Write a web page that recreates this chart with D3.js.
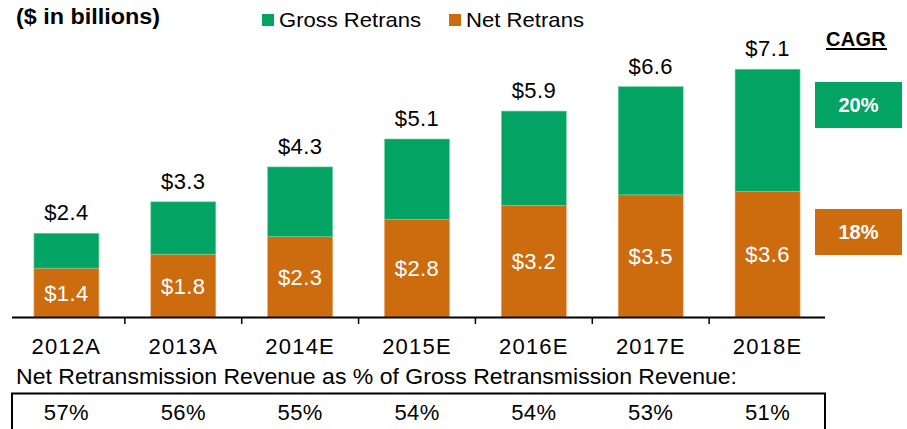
<!DOCTYPE html>
<html>
<head>
<meta charset="utf-8">
<script src="https://cdn.jsdelivr.net/npm/d3@7"></script>
<style>
  body { margin: 0; background: #fff; }
  text { font-family: "Liberation Sans", Arial, sans-serif; fill: #000; }
</style>
</head>
<body>
<script>
// Categories (years) along the x axis
var categories = ["2012A", "2013A", "2014E", "2015E", "2016E", "2017E", "2018E"];
// Gross retrans revenue ($bn) - total bar height
var gross = [2.4, 3.3, 4.3, 5.1, 5.9, 6.6, 7.1];
// Net retrans revenue ($bn) - bottom segment
var net = [1.4, 1.8, 2.3, 2.8, 3.2, 3.5, 3.6];
// Net as % of gross, shown in the table under the chart
var pct = [57, 56, 55, 54, 54, 53, 51];
// CAGR figures
var cagrGross = 20;
var cagrNet = 18;

var green = "#03a463";
var orange = "#cd6c0f";

var width = 907, height = 429;
var baseY = 317;

var svg = d3.select("body").append("svg")
    .attr("width", width)
    .attr("height", height);

var x = d3.scaleBand()
    .domain(categories)
    .range([8, 826])
    .paddingInner(0.444)
    .paddingOuter(0.222);

var y = d3.scaleLinear()
    .domain([0, 8])
    .range([baseY, baseY - 8 * 34.9]);

var rows = categories.map(function(c, i){
    return { cat: c, gross: gross[i], net: net[i], pct: pct[i] };
});

// net segment
svg.selectAll("rect.net").data(rows).enter().append("rect")
    .attr("class", "net")
    .attr("x", function(d){ return x(d.cat); })
    .attr("y", function(d){ return y(d.net); })
    .attr("width", x.bandwidth())
    .attr("height", function(d){ return y(0) - y(d.net); })
    .style("fill", orange)
    .style("stroke", "#e9a466")
    .style("stroke-width", 0.6);

// gross segment on top
svg.selectAll("rect.gross").data(rows).enter().append("rect")
    .attr("class", "gross")
    .attr("x", function(d){ return x(d.cat); })
    .attr("y", function(d){ return y(d.gross); })
    .attr("width", x.bandwidth())
    .attr("height", function(d){ return y(d.net) - y(d.gross); })
    .style("fill", green)
    .style("stroke", "#6fd3a4")
    .style("stroke-width", 0.6);

// total labels above bars
svg.selectAll("text.tot").data(rows).enter().append("text")
    .attr("class", "tot")
    .attr("x", function(d){ return x(d.cat) + x.bandwidth() / 2; })
    .attr("y", function(d){ return y(d.gross) - 13; })
    .attr("text-anchor", "middle")
    .style("font-size", "22px")
    .style("letter-spacing", "0.4px")
    .text(function(d){ return "$" + d.gross.toFixed(1); });

// net labels inside orange segment
svg.selectAll("text.netl").data(rows).enter().append("text")
    .attr("class", "netl")
    .attr("x", function(d){ return x(d.cat) + x.bandwidth() / 2; })
    .attr("y", function(d){ return (y(d.net) + y(0)) / 2 + 8; })
    .attr("text-anchor", "middle")
    .style("font-size", "22px")
    .style("letter-spacing", "0.4px")
    .style("fill", "#fff")
    .text(function(d){ return "$" + d.net.toFixed(1); });

// x axis: baseline, tick marks between categories, labels
svg.append("line")
    .attr("x1", 12).attr("x2", 825)
    .attr("y1", baseY + 0.5).attr("y2", baseY + 0.5)
    .style("stroke", "#000").style("stroke-width", 2);

var step = x.step();
svg.selectAll("line.tick").data(categories.slice(1)).enter().append("line")
    .attr("class", "tick")
    .attr("x1", function(d){ return x(d) - (step - x.bandwidth()) / 2; })
    .attr("x2", function(d){ return x(d) - (step - x.bandwidth()) / 2; })
    .attr("y1", baseY).attr("y2", baseY + 7)
    .style("stroke", "#000").style("stroke-width", 1.5);

svg.selectAll("text.cat").data(categories).enter().append("text")
    .attr("class", "cat")
    .attr("x", function(d){ return x(d) + x.bandwidth() / 2; })
    .attr("y", 354)
    .attr("text-anchor", "middle")
    .style("font-size", "22px")
    .style("letter-spacing", "1.2px")
    .text(function(d){ return d; });

// table caption
svg.append("text")
    .attr("x", 16).attr("y", 384)
    .attr("textLength", 721)
    .attr("lengthAdjust", "spacingAndGlyphs")
    .style("font-size", "22px")
    .text("Net Retransmission Revenue as % of Gross Retransmission Revenue:");

// table box (top edge + sides)
svg.append("path")
    .attr("d", "M12,430V393.5H825V430")
    .style("fill", "none")
    .style("stroke", "#000")
    .style("stroke-width", 2);

svg.selectAll("text.pct").data(rows).enter().append("text")
    .attr("class", "pct")
    .attr("x", function(d){ return x(d.cat) + x.bandwidth() / 2; })
    .attr("y", 420)
    .attr("text-anchor", "middle")
    .style("font-size", "22px")
    .style("letter-spacing", "0.4px")
    .text(function(d){ return d.pct + "%"; });

// title
svg.append("text")
    .attr("x", 16).attr("y", 24)
    .attr("textLength", 144)
    .attr("lengthAdjust", "spacingAndGlyphs")
    .style("font-size", "22px")
    .style("font-weight", "bold")
    .text("($ in billions)");

// legend
var legend = [
    { label: "Gross Retrans", color: green, x: 262, w: 142 },
    { label: "Net Retrans", color: orange, x: 449, w: 118 }
];
var lg = svg.selectAll("g.leg").data(legend).enter().append("g")
    .attr("class", "leg")
    .attr("transform", function(d){ return "translate(" + d.x + ",0)"; });
lg.append("rect")
    .attr("x", 0).attr("y", 14)
    .attr("width", 12).attr("height", 12)
    .style("fill", function(d){ return d.color; });
lg.append("text")
    .attr("x", 17).attr("y", 27)
    .attr("textLength", function(d){ return d.w; })
    .attr("lengthAdjust", "spacingAndGlyphs")
    .style("font-size", "21px")
    .text(function(d){ return d.label; });

// CAGR block
svg.append("text")
    .attr("x", 856).attr("y", 46)
    .attr("text-anchor", "middle")
    .style("font-size", "20px")
    .style("font-weight", "bold")
    .style("letter-spacing", "0.3px")
    .text("CAGR");
svg.append("line")
    .attr("x1", 826).attr("x2", 887)
    .attr("y1", 49).attr("y2", 49)
    .style("stroke", "#000").style("stroke-width", 2);

var cagr = [
    { v: cagrGross, color: green, y: 82 },
    { v: cagrNet, color: orange, y: 209 }
];
svg.selectAll("rect.cagr").data(cagr).enter().append("rect")
    .attr("class", "cagr")
    .attr("x", 815).attr("y", function(d){ return d.y; })
    .attr("width", 87).attr("height", 46)
    .style("fill", function(d){ return d.color; });
svg.selectAll("text.cagr").data(cagr).enter().append("text")
    .attr("class", "cagr")
    .attr("x", 858.5).attr("y", function(d){ return d.y + 30; })
    .attr("text-anchor", "middle")
    .style("font-size", "20px")
    .style("font-weight", "bold")
    .style("fill", "#fff")
    .text(function(d){ return d.v + "%"; });
</script>
</body>
</html>
